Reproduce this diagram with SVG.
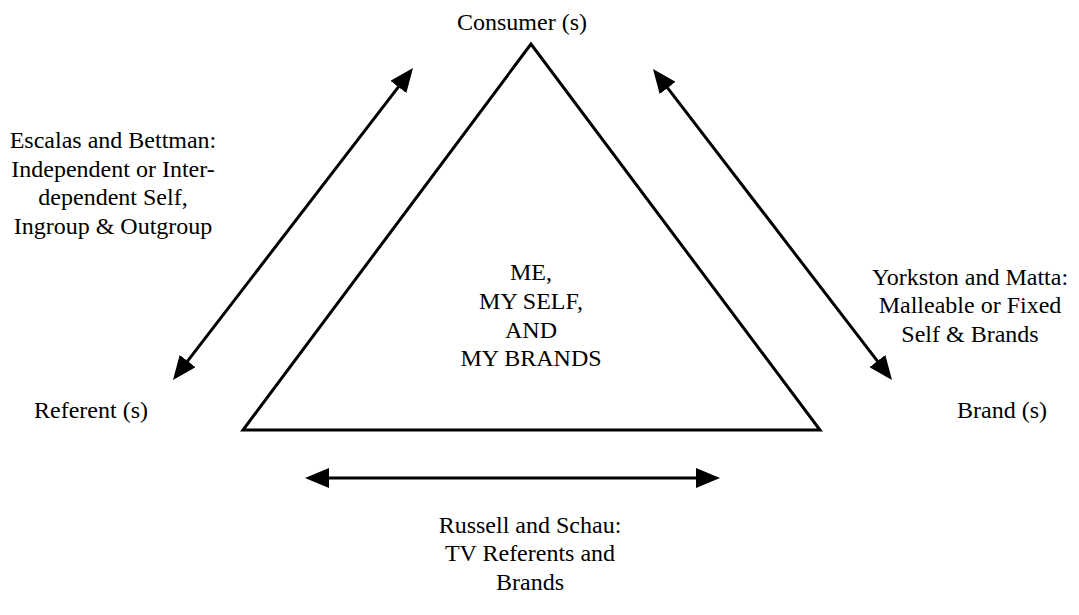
<svg xmlns="http://www.w3.org/2000/svg" width="1079" height="615" viewBox="0 0 1079 615">
<style>
text{font-family:'Liberation Serif','Times New Roman',Times,'DejaVu Serif',serif;font-size:24px;fill:#000;text-anchor:middle}
.edge{stroke:#000;stroke-width:3;fill:none}
</style>
<defs>
<marker id="ah" viewBox="0 0 24 20" refX="2" refY="10" markerWidth="24" markerHeight="20" markerUnits="userSpaceOnUse" orient="auto-start-reverse">
<path d="M0,0 L24,10 L0,20 z" fill="#000"/>
</marker>
</defs>
<rect width="1079" height="615" fill="#fff"/>
<g font-family="Liberation Serif, Times New Roman, serif">
<g id="triangle">
<polygon points="531,44 243,430 820,430" fill="none" stroke="#000" stroke-width="3" stroke-linejoin="miter"/>
<text x="531" y="280">ME,</text>
<text x="531" y="309">MY SELF,</text>
<text x="531" y="338">AND</text>
<text x="531" y="366">MY BRANDS</text>
</g>
<g id="consumer"><text x="522" y="30">Consumer (s)</text></g>
<g id="referent"><text x="91" y="418">Referent (s)</text></g>
<g id="brand"><text x="1002" y="418">Brand (s)</text></g>
<g id="label-escalas">
<text x="113" y="148">Escalas and Bettman:</text>
<text x="113" y="177">Independent or Inter-</text>
<text x="113" y="205">dependent Self,</text>
<text x="113" y="234">Ingroup &amp; Outgroup</text>
</g>
<g id="label-yorkston">
<text x="970" y="285">Yorkston and Matta:</text>
<text x="970" y="313">Malleable or Fixed</text>
<text x="970" y="342">Self &amp; Brands</text>
</g>
<g id="label-russell">
<text x="530" y="533">Russell and Schau:</text>
<text x="530" y="561">TV Referents and</text>
<text x="530" y="590">Brands</text>
</g>
</g>
<g id="connectors">
<line class="edge" x1="186.4" y1="362.6" x2="399.6" y2="85.4" marker-start="url(#ah)" marker-end="url(#ah)"/>
<line class="edge" x1="666.4" y1="86.4" x2="878.6" y2="362.6" marker-start="url(#ah)" marker-end="url(#ah)"/>
<line class="edge" x1="327" y1="478" x2="698" y2="478" marker-start="url(#ah)" marker-end="url(#ah)"/>
</g>
</svg>
